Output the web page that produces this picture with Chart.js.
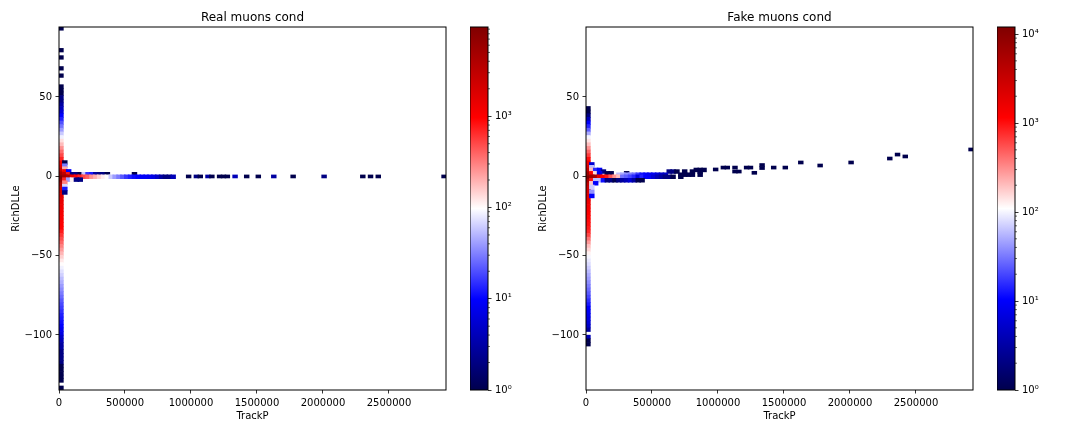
<!DOCTYPE html>
<html lang="en">
<head>
  <meta charset="UTF-8" />
  <title>Real and fake muons cond</title>
  <script src="https://cdn.jsdelivr.net/npm/chart.js@4"></script>
  <style>
    body { margin: 0; background: #fff; }
    canvas { position: absolute; top: 0; }
  </style>
</head>
<body>
  <canvas id="real-heat" style="left:0" width="465" height="432"></canvas>
  <canvas id="real-bar" style="left:470px" width="60" height="432"></canvas>
  <canvas id="fake-heat" style="left:527px" width="465" height="432"></canvas>
  <canvas id="fake-bar" style="left:997px" width="60" height="432"></canvas>

  <script>
    // axis range, same for both panels
    const xMax = 2932000;
    const yMax = 94.1;
    const yMin = -134.7;
    const xBin = 29320;
    const yBin = 2.288;
    const yFirstEdge = 94.35;

    const xTicks = [0, 500000, 1000000, 1500000, 2000000, 2500000];
    const yTicks = [-100, -50, 0, 50];

    const realMax = 9500;
    const fakeMax = 12000;

    // first column of each histogram (TrackP close to 0), one count per row from the top
    const realCol0 = [1, 0, 0, 0, 0, 0, 1, 0, 1, 0, 0, 1, 0, 1, 0, 0, 1, 1, 1, 2,
      2, 3, 4, 6, 10, 13, 20, 28, 40, 60, 85, 130, 180, 260, 360, 500, 700, 1000, 1500, 2500,
      5000, 9000, 6000, 3500, 2500, 2000, 1700, 1500, 1400, 1300, 1200, 1150, 1100, 1050, 1000, 950, 760, 600, 480, 380,
      300, 240, 190, 150, 120, 100, 86, 74, 64, 54, 47, 40, 35, 30, 26, 22, 19, 17, 15, 13,
      12, 11, 10, 8, 7, 5, 4, 3, 3, 2, 2, 2, 2, 1, 1, 1, 1, 1, 0, 1];
    const fakeCol0 = [0, 0, 0, 0, 0, 0, 0, 0, 0, 0, 0, 0, 0, 0, 0, 0, 0, 0, 0, 0,
      0, 0, 1, 1, 2, 4, 10, 15, 25, 50, 100, 140, 200, 300, 450, 650, 1000, 1500, 2200, 3500,
      7000, 12000, 6000, 3500, 2800, 2300, 2000, 1800, 1600, 1400, 1300, 1200, 1100, 1050, 1000, 900, 800, 600, 400, 280,
      200, 160, 125, 100, 88, 78, 68, 58, 50, 44, 38, 33, 28, 24, 20, 16, 13, 10, 9, 8,
      7, 6, 5, 3, 0, 4, 1, 1, 0, 0, 0, 0, 0, 0, 0, 0, 0, 0, 0, 0];

    // rows around RichDLLe = 0, each count list starts at column 1
    const realNearY = [8.7, 6.7, 4.8, 3.1, 1.3, -0.3, -2.1, -4, -6.2, -8, -10.2];
    const realNear = [
      [1],
      [30],
      [200],
      [1200, 10],
      [3000, 800, 2, 2, 1, 60, 15, 12, 3, 2, 2, 1, 0, 0, 0, 0, 0, 0, 1],
      [5000, 4000, 1500, 900, 700, 500, 400, 260, 200, 150, 115, 100, 60, 40, 30, 22, 16, 13, 11, 10, 9, 9, 8, 7, 5, 3, 2, 2, 4],
      [700, 40, 110, 2, 2],
      [300],
      [70],
      [12],
      [2]
    ];
    const fakeNearY = [7.5, 5.7, 4, 3, 1.9, 1, -0.3, -2.5, -4.4, -6.7, -9.7, -12.4];
    const fakeNear = [
      [6],
      [60],
      [200, 15, 10, 0, 0, 0, 0, 0, 0, 0, 0, 0, 0, 0, 0, 0, 0, 0, 0, 0, 0, 0, 0, 0, 0, 0, 0, 1, 1, 1],
      [0, 0, 0, 2, 0, 0, 0, 0, 0, 0, 0, 0, 0, 0, 0, 0, 0, 0, 0, 0, 2, 2, 1, 0, 1, 0, 1, 0, 1],
      [1200, 150, 8, 0, 1, 1, 0, 0, 0, 1],
      [0, 0, 0, 0, 0, 0, 0, 60, 50, 40, 35, 30, 18, 12, 10, 8, 9, 7, 5, 5, 0, 0, 0, 1, 1, 1, 1, 0, 1],
      [7000, 6000, 1800, 1200, 900, 500, 300, 200, 30, 25, 20, 15, 7, 14, 10, 9, 6, 4, 3, 2, 2, 1, 0, 1],
      [1000, 60, 60, 12, 2, 2, 1, 2, 3, 4, 6, 3, 1, 1],
      [180, 10],
      [70],
      [40],
      [10]
    ];

    // sparse cells at high TrackP
    const realTailCols = [33, 35, 36, 38, 39, 41, 42, 43, 45, 48, 51, 55, 60, 68, 78, 80, 82, 99];
    const realTailY = [-0.1, -0.1, -0.1, -0.1, -0.1, -0.1, -0.1, -0.1, -0.1, -0.1, -0.1, -0.1, -0.1, -0.1, -0.1, -0.1, -0.1, -0.1];
    const realTailCounts = [1, 2, 1, 3, 1, 1, 1, 1, 4, 1, 1, 3, 1, 2, 1, 1, 1, 1];
    const fakeTailCols = [33, 35, 36, 38, 38, 39, 41, 42, 43, 45, 45, 48, 51, 55, 60, 68, 78, 80, 82, 99];
    const fakeTailY = [4.3, 5.5, 5.5, 5.5, 3, 3, 5.5, 5.5, 2.2, 7.1, 5.2, 5.5, 5.5, 8.7, 6.8, 8.7, 11.2, 13.7, 12.5, 16.9];
    const fakeTailCounts = [1, 1, 1, 1, 1, 1, 1, 1, 1, 1, 1, 1, 1, 1, 1, 1, 1, 1, 1, 1];

    const seismic = [[0, 0, 76.5], [0, 0, 255], [255, 255, 255], [255, 0, 0], [127.5, 0, 0]];
    const superscripts = '⁰¹²³⁴';

    Chart.defaults.font.family = "'DejaVu Sans'";
    Chart.defaults.font.size = 10;
    Chart.defaults.color = '#000';

    function countColor(n, vmax) {
      const t = Math.min(Math.log10(n) / Math.log10(vmax), 1) * 4;
      const i = Math.min(Math.floor(t), 3);
      const f = t - i;
      const c = [0, 1, 2].map(k => Math.round(seismic[i][k] + (seismic[i + 1][k] - seismic[i][k]) * f));
      return `rgb(${c[0]},${c[1]},${c[2]})`;
    }

    const frame = {
      id: 'frame',
      afterDraw(chart) {
        const a = chart.chartArea, ctx = chart.ctx;
        ctx.save();
        ctx.strokeStyle = '#000';
        ctx.lineWidth = 1;
        ctx.strokeRect(a.left, a.top, a.right - a.left, a.bottom - a.top);
        ctx.restore();
      }
    };

    function drawHeat(id, title, col0, nearY, near, tailCols, tailY, tailCounts, vmax) {
      const cells = [];
      const addCell = (c, top, height, n) => {
        if (n > 0) cells.push({ x: (c + 0.5) * xBin, y: [top - height, top], n });
      };
      col0.forEach((n, r) => addCell(0, yFirstEdge - r * yBin, yBin, n));
      near.forEach((row, i) => row.forEach((n, c) => addCell(c + 1, nearY[i] + 1.2, 2.4, n)));
      tailCols.forEach((c, i) => addCell(c, tailY[i] + 0.95, 1.9, tailCounts[i]));

      new Chart(document.getElementById(id), {
        type: 'bar',
        data: {
          datasets: [{
            data: cells,
            backgroundColor: cells.map(d => countColor(d.n, vmax)),
            barThickness: 4.8
          }]
        },
        plugins: [frame],
        options: {
          responsive: false,
          animation: false,
          devicePixelRatio: 1,
          layout: { padding: { right: 19 } },
          plugins: {
            legend: { display: false },
            tooltip: { enabled: false },
            title: {
              display: true, text: title, fullSize: false, color: '#000',
              font: { size: 12, weight: 'normal' }, padding: { top: 10.5, bottom: 2.1 }
            }
          },
          scales: {
            x: {
              type: 'linear', min: 0, max: xMax, offset: false,
              grid: { offset: false, drawOnChartArea: false, tickLength: 3.5, tickColor: '#000', tickWidth: 0.8 },
              border: { display: false },
              title: { display: true, text: 'TrackP', padding: { top: 0, bottom: 10 } },
              ticks: { autoSkip: false, maxRotation: 0, padding: 3.5, callback: v => String(v) },
              afterBuildTicks: s => { s.ticks = xTicks.map(value => ({ value })); },
              afterFit: s => { s.height = 42; }
            },
            y: {
              type: 'linear', min: yMin, max: yMax,
              grid: { drawOnChartArea: false, tickLength: 3.5, tickColor: '#000', tickWidth: 0.8 },
              border: { display: false },
              title: { display: true, text: 'RichDLLe', padding: { top: 10, bottom: 0 } },
              ticks: { autoSkip: false, padding: 3.5, callback: v => String(v).replace('-', '\u2212') },
              afterBuildTicks: s => { s.ticks = yTicks.map(value => ({ value })); },
              afterFit: s => { s.width = 59; }
            }
          }
        }
      });
    }

    function isDecade(v) {
      return Number.isInteger(Math.log10(v));
    }

    const minorTicks = {
      id: 'minorTicks',
      afterDraw(chart) {
        const s = chart.scales.y, ctx = chart.ctx;
        ctx.save();
        ctx.strokeStyle = '#000';
        ctx.lineWidth = 0.6;
        s.ticks.filter(t => !isDecade(t.value)).forEach(t => {
          const p = s.getPixelForValue(t.value);
          ctx.beginPath();
          ctx.moveTo(chart.chartArea.right, p);
          ctx.lineTo(chart.chartArea.right + 2, p);
          ctx.stroke();
        });
        ctx.restore();
      }
    };

    function drawColorbar(id, vmax) {
      new Chart(document.getElementById(id), {
        type: 'bar',
        data: {
          labels: [''],
          datasets: [{
            data: [[1, vmax]],
            barPercentage: 1,
            categoryPercentage: 1,
            backgroundColor: c => {
              const a = c.chart.chartArea;
              if (!a) return '#fff';
              const g = c.chart.ctx.createLinearGradient(0, a.bottom, 0, a.top);
              seismic.forEach((s, i) => g.addColorStop(i / 4, `rgb(${s[0]},${s[1]},${s[2]})`));
              return g;
            }
          }]
        },
        plugins: [frame, minorTicks],
        options: {
          responsive: false,
          animation: false,
          devicePixelRatio: 1,
          layout: { padding: { top: 27, bottom: 42 } },
          plugins: { legend: { display: false }, tooltip: { enabled: false } },
          scales: {
            x: { display: false },
            y: {
              type: 'logarithmic', position: 'right', min: 1, max: vmax,
              grid: {
                drawOnChartArea: false, tickLength: 3.5, tickWidth: 0.8,
                tickColor: c => (isDecade(c.tick.value) ? '#000' : 'rgba(0,0,0,0)')
              },
              border: { display: false },
              ticks: {
                autoSkip: false, padding: 3.5,
                callback: v => (isDecade(v) ? '10' + superscripts[Math.log10(v)] : '')
              },
              afterBuildTicks: s => {
                s.ticks = s.ticks.filter(t => {
                  const m = t.value / Math.pow(10, Math.floor(Math.log10(t.value)));
                  return Math.abs(m - Math.round(m)) < 1e-6;
                });
              },
              afterFit: s => { s.width = 42; }
            }
          }
        }
      });
    }

    drawHeat('real-heat', 'Real muons cond', realCol0, realNearY, realNear, realTailCols, realTailY, realTailCounts, realMax);
    drawColorbar('real-bar', realMax);
    drawHeat('fake-heat', 'Fake muons cond', fakeCol0, fakeNearY, fakeNear, fakeTailCols, fakeTailY, fakeTailCounts, fakeMax);
    drawColorbar('fake-bar', fakeMax);
  </script>
</body>
</html>
